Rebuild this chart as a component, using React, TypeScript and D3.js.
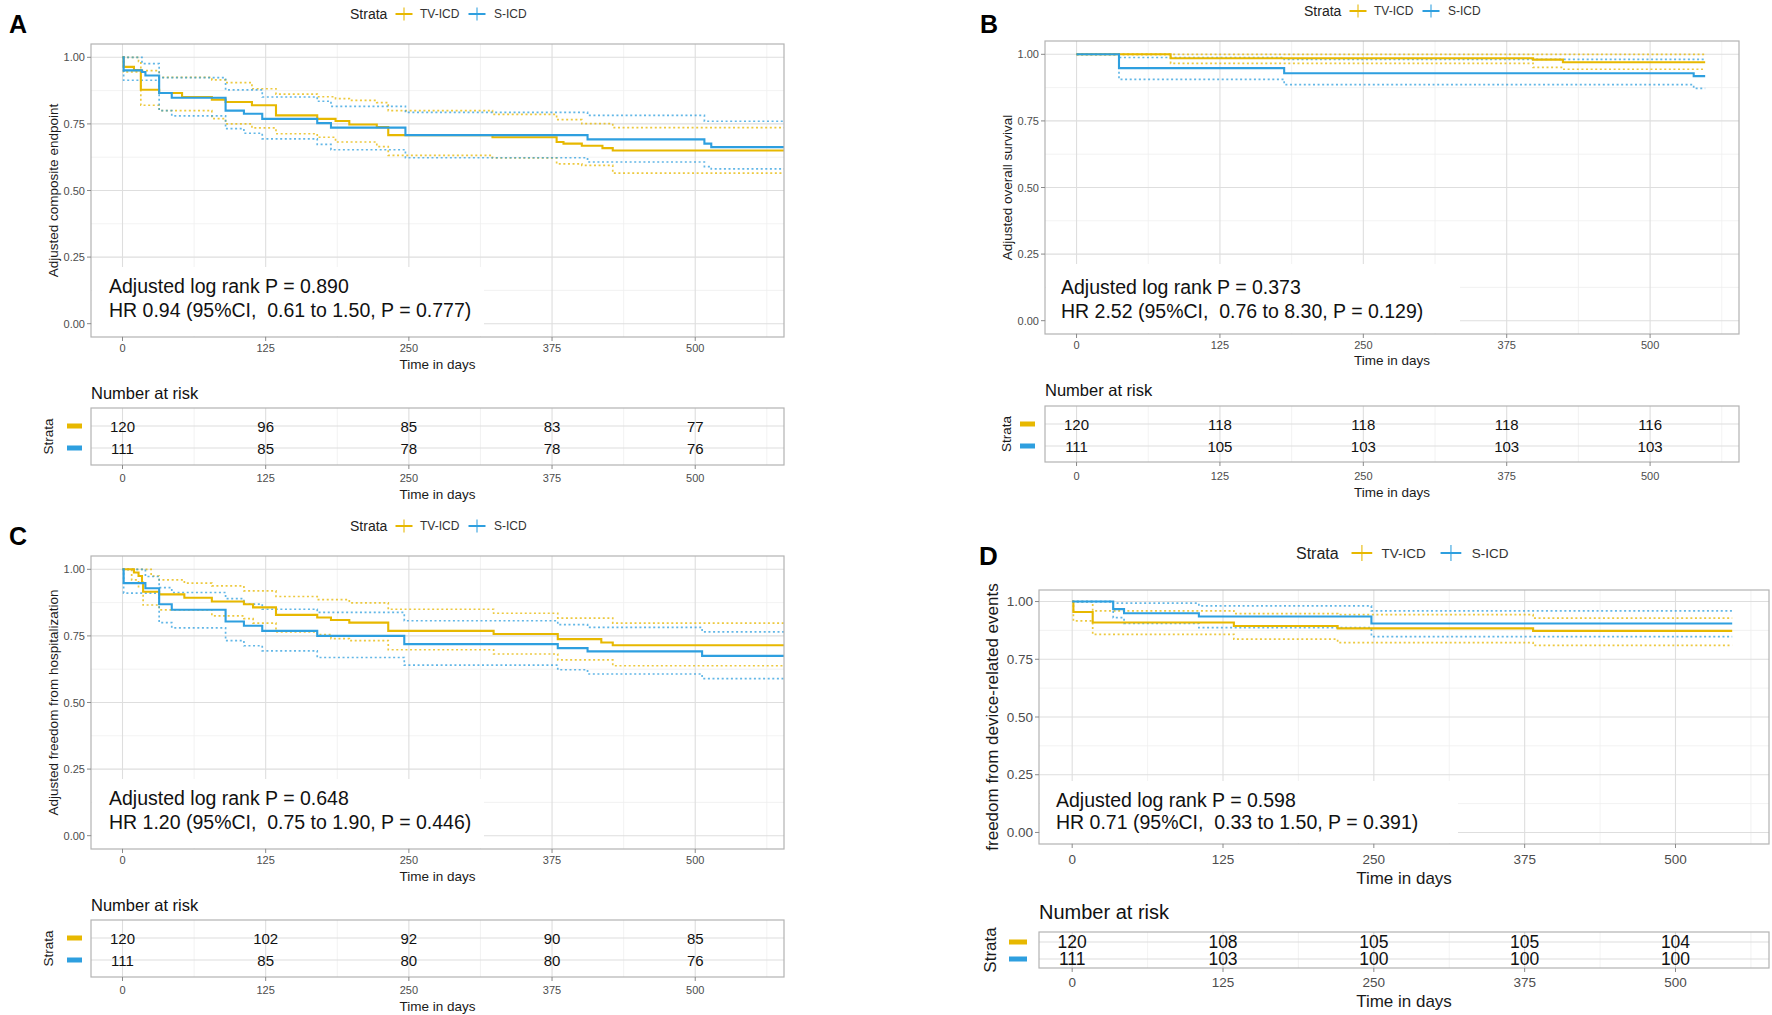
import React from 'react';
import * as d3 from 'd3';

type Step = [number, number];

const TIME_TICKS = [0, 125, 250, 375, 500];
const TIME_MINOR = [62.5, 187.5, 312.5, 437.5, 562.5];
const SURV_TICKS = [0, 0.25, 0.5, 0.75, 1];
const SURV_MINOR = [0.125, 0.375, 0.625, 0.875];
const STRATA = ['TV-ICD', 'S-ICD'];
const COLORS = ['#E7B800', '#2E9FDF'];

// Panel A – composite endpoint
const aTv: Step[] = [[0, 1], [1, 0.964], [10, 0.952], [16, 0.878], [32, 0.866], [52, 0.851], [78, 0.841], [90, 0.832], [113, 0.82], [134, 0.782], [170, 0.769], [186, 0.761], [198, 0.748], [222, 0.738], [232, 0.708], [323, 0.7], [379, 0.682], [385, 0.676], [401, 0.668], [419, 0.659], [428, 0.65]];
const aSi: Step[] = [[0, 1], [1, 0.951], [17, 0.945], [20, 0.932], [32, 0.866], [43, 0.848], [90, 0.8], [106, 0.788], [122, 0.769], [170, 0.753], [182, 0.736], [247, 0.708], [406, 0.692], [508, 0.676], [514, 0.663]];
const aTvUp: Step[] = [[0, 1], [14, 0.985], [16, 0.95], [32, 0.925], [78, 0.915], [90, 0.905], [113, 0.882], [134, 0.862], [170, 0.852], [186, 0.845], [198, 0.838], [222, 0.83], [232, 0.8], [323, 0.786], [379, 0.766], [401, 0.751], [428, 0.736]];
const aTvLo: Step[] = [[0, 1], [1, 0.945], [16, 0.82], [32, 0.8], [78, 0.77], [90, 0.75], [113, 0.735], [134, 0.713], [170, 0.7], [186, 0.682], [222, 0.665], [232, 0.632], [323, 0.622], [379, 0.6], [401, 0.594], [428, 0.565]];
const aSiUp: Step[] = [[0, 1], [17, 0.976], [32, 0.924], [90, 0.878], [122, 0.851], [170, 0.835], [182, 0.816], [247, 0.793], [406, 0.782], [508, 0.76]];
const aSiLo: Step[] = [[0, 1], [1, 0.914], [32, 0.8], [43, 0.78], [90, 0.732], [106, 0.715], [122, 0.694], [170, 0.673], [182, 0.653], [247, 0.623], [406, 0.607], [508, 0.59], [514, 0.581]];
const aRiskTv = [120, 96, 85, 83, 77];
const aRiskSi = [111, 85, 78, 78, 76];

// Panel B – overall survival
const bTv: Step[] = [[0, 1], [82, 0.985], [398, 0.98], [424, 0.97]];
const bSi: Step[] = [[0, 1], [37, 0.948], [181, 0.929], [538, 0.918]];
const bTvUp: Step[] = [[0, 1]];
const bTvLo: Step[] = [[0, 1], [82, 0.966], [398, 0.951], [424, 0.944]];
const bSiUp: Step[] = [[0, 1], [37, 0.988], [181, 0.981]];
const bSiLo: Step[] = [[0, 1], [37, 0.906], [181, 0.886], [538, 0.872]];
const bRiskTv = [120, 118, 118, 118, 116];
const bRiskSi = [111, 105, 103, 103, 103];

// Panel C – freedom from hospitalization
const cTv: Step[] = [[0, 1], [10, 0.988], [14, 0.975], [17, 0.95], [18, 0.916], [32, 0.906], [54, 0.893], [78, 0.879], [106, 0.869], [114, 0.857], [134, 0.829], [170, 0.819], [182, 0.81], [198, 0.8], [232, 0.769], [324, 0.757], [380, 0.738], [418, 0.725], [428, 0.715]];
const cSi: Step[] = [[0, 1], [1, 0.948], [20, 0.929], [32, 0.869], [43, 0.848], [90, 0.804], [106, 0.788], [122, 0.769], [170, 0.75], [246, 0.719], [380, 0.704], [406, 0.692], [506, 0.675]];
const cTvUp: Step[] = [[0, 1], [25, 0.975], [32, 0.96], [54, 0.948], [78, 0.938], [106, 0.919], [134, 0.898], [170, 0.886], [198, 0.874], [232, 0.85], [324, 0.835], [380, 0.817], [428, 0.798]];
const cTvLo: Step[] = [[0, 1], [8, 0.96], [14, 0.935], [18, 0.866], [32, 0.848], [78, 0.825], [106, 0.815], [114, 0.798], [134, 0.765], [170, 0.755], [182, 0.74], [198, 0.732], [232, 0.698], [324, 0.682], [380, 0.66], [428, 0.638]];
const cSiUp: Step[] = [[0, 1], [20, 0.973], [32, 0.931], [43, 0.913], [90, 0.89], [106, 0.869], [122, 0.85], [170, 0.838], [246, 0.807], [380, 0.792], [406, 0.782], [506, 0.765]];
const cSiLo: Step[] = [[0, 1], [1, 0.911], [32, 0.8], [43, 0.78], [90, 0.732], [106, 0.713], [122, 0.694], [170, 0.669], [246, 0.64], [380, 0.623], [406, 0.607], [506, 0.59]];
const cRiskTv = [120, 102, 92, 90, 85];
const cRiskSi = [111, 85, 80, 80, 76];

// Panel D – device-related events
const dTv: Step[] = [[0, 1], [1, 0.955], [17, 0.909], [134, 0.894], [220, 0.884], [382, 0.873]];
const dSi: Step[] = [[0, 1], [34, 0.967], [43, 0.949], [105, 0.935], [248, 0.905]];
const dTvUp: Step[] = [[0, 1], [17, 0.96], [134, 0.948], [220, 0.943], [382, 0.928]];
const dTvLo: Step[] = [[0, 1], [1, 0.916], [17, 0.858], [134, 0.837], [220, 0.822], [382, 0.81]];
const dSiUp: Step[] = [[0, 1], [34, 0.993], [105, 0.981], [248, 0.96]];
const dSiLo: Step[] = [[0, 1], [34, 0.93], [43, 0.905], [105, 0.887], [248, 0.848]];
const dRiskTv = [120, 108, 105, 105, 104];
const dRiskSi = [111, 103, 100, 100, 100];

const FONT = '"Liberation Sans", Arial, Helvetica, sans-serif';

interface Layout {
  letter: string; letterX: number; letterY: number; letterSize: number;
  legendX: number; legendY: number; legendScale: number; legendFont: number; legendLabelFont: number;
  x0: number; x1: number; y0: number; y1: number;
  yTitleX: number; tickFont: number; titleFont: number; yTitleFont: number;
  xTickY: number; xTitleY: number;
  boxRight: number; boxTop: number; statX: number; statY: [number, number]; statFont: number;
  narY: number; narFont: number; tblY0: number; tblY1: number; rowY: [number, number]; rowFont: number;
  dashX: number; dashW: number; tblTickY: number; tblTitleY: number; strataX: number; strataFont: number;
}

const layoutA: Layout = {
  letter: 'A', letterX: 9, letterY: 24, letterSize: 25,
  legendX: 350, legendY: 14, legendScale: 1, legendFont: 14, legendLabelFont: 12,
  x0: 91, x1: 784, y0: 44, y1: 337,
  yTitleX: 53, tickFont: 11, titleFont: 13.5, yTitleFont: 13.5,
  xTickY: 348, xTitleY: 364,
  boxRight: 484, boxTop: 267, statX: 109, statY: [286, 310], statFont: 19.5,
  narY: 393, narFont: 16.5, tblY0: 408, tblY1: 465, rowY: [426, 448], rowFont: 15,
  dashX: 67, dashW: 15, tblTickY: 478, tblTitleY: 494, strataX: 48, strataFont: 13.5,
};

const shiftY = (l: Layout, dy: number, letter: string): Layout => ({
  ...l, letter,
  letterY: l.letterY + dy, legendY: l.legendY + dy, y0: l.y0 + dy, y1: l.y1 + dy,
  xTickY: l.xTickY + dy, xTitleY: l.xTitleY + dy, boxTop: l.boxTop + dy,
  statY: [l.statY[0] + dy, l.statY[1] + dy], narY: l.narY + dy,
  tblY0: l.tblY0 + dy, tblY1: l.tblY1 + dy, rowY: [l.rowY[0] + dy, l.rowY[1] + dy],
  tblTickY: l.tblTickY + dy, tblTitleY: l.tblTitleY + dy,
});

const layoutB: Layout = {
  ...layoutA, letter: 'B', letterX: 980, letterY: 24,
  legendX: 1304, legendY: 11,
  x0: 1045, x1: 1739, y0: 41, y1: 334,
  yTitleX: 1007, xTickY: 345, xTitleY: 360,
  boxRight: 1460, boxTop: 264, statX: 1061, statY: [287, 311],
  narY: 390, tblY0: 406, tblY1: 462, rowY: [424, 446],
  dashX: 1020, tblTickY: 476, tblTitleY: 492, strataX: 1006,
};

const layoutC: Layout = shiftY(layoutA, 512, 'C');

const layoutD: Layout = {
  letter: 'D', letterX: 979, letterY: 556, letterSize: 26,
  legendX: 1296, legendY: 553, legendScale: 1.22, legendFont: 16, legendLabelFont: 13.5,
  x0: 1039, x1: 1769, y0: 590, y1: 844,
  yTitleX: 992, tickFont: 13.5, titleFont: 17, yTitleFont: 17,
  xTickY: 859, xTitleY: 878,
  boxRight: 1458, boxTop: 781, statX: 1056, statY: [800, 822], statFont: 19.5,
  narY: 912, narFont: 20, tblY0: 932, tblY1: 968, rowY: [942, 959], rowFont: 17.5,
  dashX: 1009, dashW: 18, tblTickY: 982, tblTitleY: 1001, strataX: 990, strataFont: 17,
};

interface PanelProps {
  L: Layout;
  main: Step[][];
  upper: Step[][];
  lower: Step[][];
  end: number;
  risk: number[][];
  yTitle: string;
  stats: [string, string];
}

const KMPanel: React.FC<PanelProps> = ({ L, main, upper, lower, end, risk, yTitle, stats }) => {
  const x = d3.scaleLinear().domain([-27.5, 577.5]).range([L.x0, L.x1]);
  const y = d3.scaleLinear().domain([-0.05, 1.05]).range([L.y1, L.y0]);
  const row = d3.scalePoint<string>().domain(STRATA).range(L.rowY);
  const line = d3.line<Step>().x(d => x(d[0])).y(d => y(d[1])).curve(d3.curveStepAfter);
  const path = (s: Step[]) => line([...s, [end, s[s.length - 1][1]]]) ?? '';
  const clipId = `clip-${L.letter}`;
  const ls = L.legendScale;
  const plusX = [54, 127];
  const labelX = [70, 144];

  const grid = (top: number, bottom: number, rows: number[] | null) => (
    <g>
      {TIME_MINOR.map(t => (
        <line key={`mx${t}`} x1={x(t)} x2={x(t)} y1={top} y2={bottom} stroke="#EFEFEF" strokeWidth={0.8} />
      ))}
      {rows === null && SURV_MINOR.map(v => (
        <line key={`my${v}`} x1={L.x0} x2={L.x1} y1={y(v)} y2={y(v)} stroke="#EFEFEF" strokeWidth={0.8} />
      ))}
      {TIME_TICKS.map(t => (
        <line key={`gx${t}`} x1={x(t)} x2={x(t)} y1={top} y2={bottom} stroke="#DEDEDE" strokeWidth={1.1} />
      ))}
      {(rows ?? SURV_TICKS.map(v => y(v))).map(v => (
        <line key={`gy${v}`} x1={L.x0} x2={L.x1} y1={v} y2={v} stroke="#DEDEDE" strokeWidth={1.1} />
      ))}
    </g>
  );

  const xAxis = (bottom: number, tickY: number, titleY: number) => (
    <g>
      {TIME_TICKS.map(t => (
        <g key={t}>
          <line x1={x(t)} x2={x(t)} y1={bottom} y2={bottom + 4} stroke="#8A8A8A" strokeWidth={1} />
          <text x={x(t)} y={tickY} fontSize={L.tickFont} fill="#4D4D4D" textAnchor="middle" dominantBaseline="central">{t}</text>
        </g>
      ))}
      <text x={(L.x0 + L.x1) / 2} y={titleY} fontSize={L.titleFont} fill="#1A1A1A" textAnchor="middle" dominantBaseline="central">Time in days</text>
    </g>
  );

  return (
    <g fontFamily={FONT}>
      <text x={L.letterX} y={L.letterY} fontSize={L.letterSize} fontWeight="bold" fill="#000" dominantBaseline="central">{L.letter}</text>

      {/* legend */}
      <g>
        <text x={L.legendX} y={L.legendY} fontSize={L.legendFont} fill="#222" dominantBaseline="central">Strata</text>
        {STRATA.map((s, i) => {
          const cx = L.legendX + plusX[i] * ls;
          return (
            <g key={s}>
              <line x1={cx - 8.5 * ls} x2={cx + 8.5 * ls} y1={L.legendY} y2={L.legendY} stroke={COLORS[i]} strokeWidth={2} />
              <line x1={cx} x2={cx} y1={L.legendY - 6.5 * ls} y2={L.legendY + 6.5 * ls} stroke={COLORS[i]} strokeWidth={1.5} opacity={0.7} />
              <text x={L.legendX + labelX[i] * ls} y={L.legendY} fontSize={L.legendLabelFont} fill="#333" dominantBaseline="central">{s}</text>
            </g>
          );
        })}
      </g>

      {/* survival plot */}
      <defs>
        <clipPath id={clipId}>
          <rect x={L.x0} y={L.y0} width={L.x1 - L.x0} height={L.y1 - L.y0} />
        </clipPath>
      </defs>
      <rect x={L.x0} y={L.y0} width={L.x1 - L.x0} height={L.y1 - L.y0} fill="#fff" />
      {grid(L.y0, L.y1, null)}
      <g clipPath={`url(#${clipId})`}>
        {STRATA.map((s, i) => (
          <g key={s} fill="none" stroke={COLORS[i]} opacity={0.75} strokeWidth={1.7} strokeDasharray="2 2.6">
            <path d={path(upper[i])} />
            <path d={path(lower[i])} />
          </g>
        ))}
        {STRATA.map((s, i) => (
          <path key={s} d={path(main[i])} fill="none" stroke={COLORS[i]} strokeWidth={2.1} />
        ))}
      </g>
      <rect x={L.x0 + 1} y={L.boxTop} width={L.boxRight - L.x0 - 1} height={L.y1 - L.boxTop - 1} fill="#fff" />
      {stats.map((s, i) => (
        <text key={i} x={L.statX} y={L.statY[i]} fontSize={L.statFont} fill="#111" dominantBaseline="central" style={{ whiteSpace: 'pre' }}>{s}</text>
      ))}
      <rect x={L.x0} y={L.y0} width={L.x1 - L.x0} height={L.y1 - L.y0} fill="none" stroke="#B3B3B3" strokeWidth={1.2} />
      {SURV_TICKS.map(v => (
        <g key={v}>
          <line x1={L.x0 - 4} x2={L.x0} y1={y(v)} y2={y(v)} stroke="#8A8A8A" strokeWidth={1} />
          <text x={L.x0 - 6} y={y(v)} fontSize={L.tickFont} fill="#4D4D4D" textAnchor="end" dominantBaseline="central">{v.toFixed(2)}</text>
        </g>
      ))}
      <text transform={`translate(${L.yTitleX},${(L.y0 + L.y1) / 2}) rotate(-90)`} fontSize={L.yTitleFont} fill="#1A1A1A" textAnchor="middle" dominantBaseline="central">{yTitle}</text>
      {xAxis(L.y1, L.xTickY, L.xTitleY)}

      {/* risk table */}
      <text x={L.x0} y={L.narY} fontSize={L.narFont} fill="#111" dominantBaseline="central">Number at risk</text>
      {grid(L.tblY0, L.tblY1, STRATA.map(s => row(s) ?? 0))}
      {STRATA.map((s, i) => (
        <g key={s}>
          {risk[i].map((n, j) => (
            <text key={j} x={x(TIME_TICKS[j])} y={row(s)} fontSize={L.rowFont} fill="#111" textAnchor="middle" dominantBaseline="central">{n}</text>
          ))}
          <rect x={L.dashX} y={(row(s) ?? 0) - 2.5} width={L.dashW} height={5} fill={COLORS[i]} />
        </g>
      ))}
      <rect x={L.x0} y={L.tblY0} width={L.x1 - L.x0} height={L.tblY1 - L.tblY0} fill="none" stroke="#B3B3B3" strokeWidth={1.2} />
      <text transform={`translate(${L.strataX},${(L.tblY0 + L.tblY1) / 2}) rotate(-90)`} fontSize={L.strataFont} fill="#1A1A1A" textAnchor="middle" dominantBaseline="central">Strata</text>
      {xAxis(L.tblY1, L.tblTickY, L.tblTitleY)}
    </g>
  );
};

export default function App() {
  return (
    <svg width={1772} height={1015} viewBox="0 0 1772 1015" style={{ position: 'absolute', left: 0, top: 0, background: '#fff' }}>
      <rect width={1772} height={1015} fill="#fff" />
      <KMPanel
        L={layoutA}
        main={[aTv, aSi]} upper={[aTvUp, aSiUp]} lower={[aTvLo, aSiLo]} end={578}
        risk={[aRiskTv, aRiskSi]}
        yTitle="Adjusted composite endpoint"
        stats={['Adjusted log rank P = 0.890', 'HR 0.94 (95%CI,  0.61 to 1.50, P = 0.777)']}
      />
      <KMPanel
        L={layoutB}
        main={[bTv, bSi]} upper={[bTvUp, bSiUp]} lower={[bTvLo, bSiLo]} end={548}
        risk={[bRiskTv, bRiskSi]}
        yTitle="Adjusted overall survival"
        stats={['Adjusted log rank P = 0.373', 'HR 2.52 (95%CI,  0.76 to 8.30, P = 0.129)']}
      />
      <KMPanel
        L={layoutC}
        main={[cTv, cSi]} upper={[cTvUp, cSiUp]} lower={[cTvLo, cSiLo]} end={578}
        risk={[cRiskTv, cRiskSi]}
        yTitle="Adjusted freedom from hospitalization"
        stats={['Adjusted log rank P = 0.648', 'HR 1.20 (95%CI,  0.75 to 1.90, P = 0.446)']}
      />
      <KMPanel
        L={layoutD}
        main={[dTv, dSi]} upper={[dTvUp, dSiUp]} lower={[dTvLo, dSiLo]} end={547}
        risk={[dRiskTv, dRiskSi]}
        yTitle="freedom from device-related events"
        stats={['Adjusted log rank P = 0.598', 'HR 0.71 (95%CI,  0.33 to 1.50, P = 0.391)']}
      />
    </svg>
  );
}
